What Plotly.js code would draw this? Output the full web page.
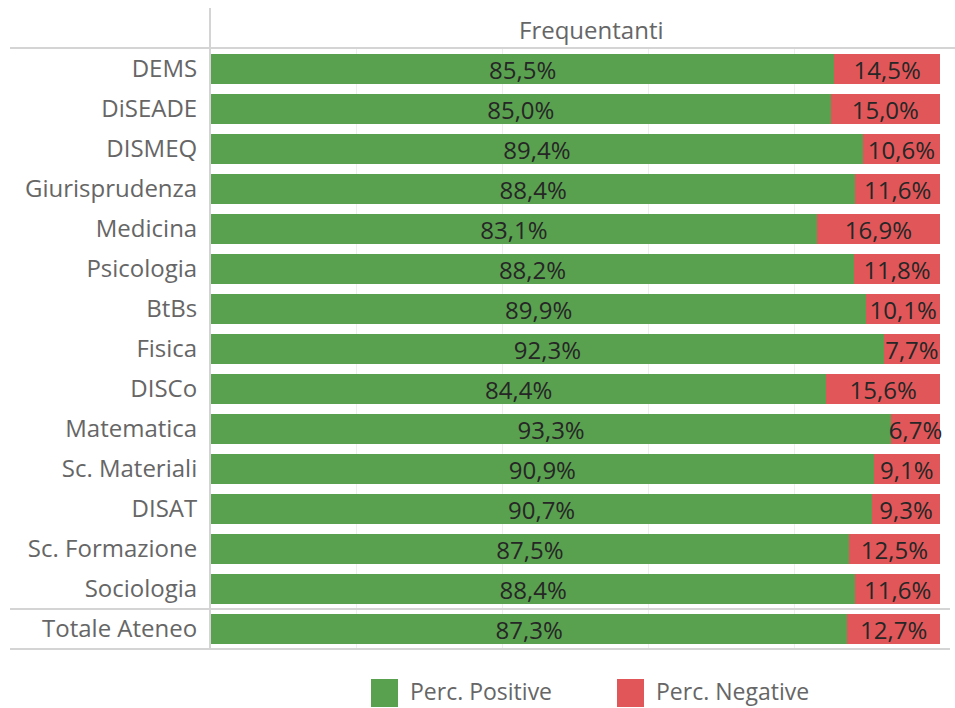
<!DOCTYPE html>
<html>
<head>
<meta charset="utf-8">
<script src="https://cdn.plot.ly/plotly-3.0.1.min.js"></script>
<style>html,body{margin:0;padding:0;background:#fff;}#chart{width:955px;height:708px;}</style>
</head>
<body>
<div id="chart"></div>
<script>
const categories = ["DEMS","DiSEADE","DISMEQ","Giurisprudenza","Medicina","Psicologia","BtBs","Fisica","DISCo","Matematica","Sc. Materiali","DISAT","Sc. Formazione","Sociologia","Totale Ateneo"];
const positive = [85.5,85.0,89.4,88.4,83.1,88.2,89.9,92.3,84.4,93.3,90.9,90.7,87.5,88.4,87.3];
const negative = [14.5,15.0,10.6,11.6,16.9,11.8,10.1,7.7,15.6,6.7,9.1,9.3,12.5,11.6,12.7];
const seriesNames = ["Perc. Positive","Perc. Negative"];
const seriesColors = ["#59A14F","#E15759"];
const headerText = "Frequentanti";

const W = 955, H = 708;
const L = 211, R = 940, T = 49, B = 649;
const pw = R - L, ph = B - T;
const px = v => (v - L) / pw;
const py = v => (B - v) / ph;

const FONT = "Open Sans, sans-serif";

const traces = [positive, negative].map((vals, i) => ({
  type: "bar",
  orientation: "h",
  y: categories,
  x: vals,
  name: seriesNames[i],
  marker: {color: seriesColors[i], line: {width: 0}},
  width: 0.75,
  texttemplate: "%{x:.1f}%",
  textposition: "inside",
  insidetextanchor: "middle",
  constraintext: "none",
  textangle: 0,
  textfont: {family: FONT, size: 24, color: "#262626"},
  cliponaxis: false,
  showlegend: false,
  hoverinfo: "skip"
}));

const lineColor = "#d4d4d4";
const shapes = [
  {type:"line", xref:"paper", yref:"paper", x0:px(10), x1:px(955), y0:py(48), y1:py(48), line:{color:lineColor, width:2}},
  {type:"line", xref:"paper", yref:"paper", x0:px(10), x1:px(950), y0:py(609), y1:py(609), line:{color:lineColor, width:2}},
  {type:"line", xref:"paper", yref:"paper", x0:px(10), x1:px(950), y0:py(649), y1:py(649), line:{color:lineColor, width:2}},
  {type:"line", xref:"paper", yref:"paper", x0:px(210), x1:px(210), y0:py(8), y1:py(650), line:{color:lineColor, width:2}}
];

const annotations = [
  {xref:"paper", yref:"paper", x:px(591), y:py(30), text:headerText, showarrow:false, xanchor:"center", yanchor:"middle", font:{family:FONT, size:24, color:"#666666"}}
];

// legend
const legX = [371, 617];
seriesNames.forEach((n, i) => {
  shapes.push({type:"rect", xref:"paper", yref:"paper", x0:px(legX[i]), x1:px(legX[i]+27), y0:py(679), y1:py(707), fillcolor:seriesColors[i], line:{width:0}});
  annotations.push({xref:"paper", yref:"paper", x:px(legX[i]+37), y:py(691), text:n, showarrow:false, xanchor:"left", yanchor:"middle", font:{family:FONT, size:23, color:"#666666"}});
});

const layout = {
  width: W, height: H,
  margin: {l: L, r: W - R, t: T, b: H - B, pad: 0},
  paper_bgcolor: "#fff", plot_bgcolor: "#fff",
  barmode: "stack",
  separators: ",.",
  showlegend: false,
  xaxis: {range:[0,100], dtick:20, showgrid:true, gridcolor:"#eeeeee", gridwidth:1, zeroline:false, showticklabels:false, ticks:"", showline:false, fixedrange:true},
  yaxis: {type:"category", categoryorder:"array", categoryarray:categories, range:[categories.length-0.5, -0.5], showgrid:false, zeroline:false, showline:false, ticks:"outside", ticklen:8, tickcolor:"rgba(0,0,0,0)", tickfont:{family:FONT, size:24, color:"#666666"}, fixedrange:true},
  shapes: shapes,
  annotations: annotations,
  font: {family: FONT}
};

Plotly.newPlot("chart", traces, layout, {displayModeBar:false, staticPlot:true});
</script>
</body>
</html>
